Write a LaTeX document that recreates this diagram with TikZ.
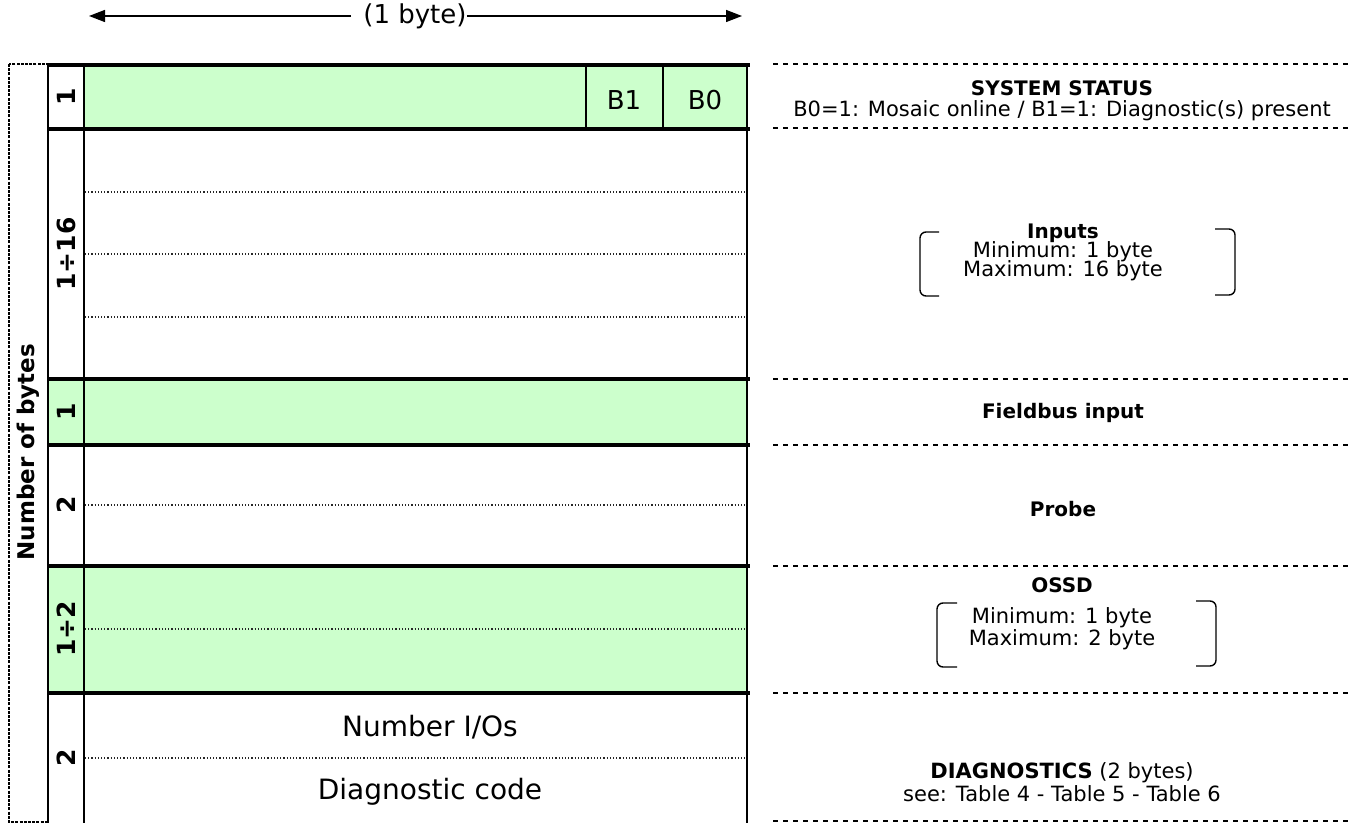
\documentclass[tikz,border=0pt]{standalone}
\usepackage{fontspec}
\setmainfont{DejaVu Sans}
\usetikzlibrary{arrows.meta,positioning}
\definecolor{fillgreen}{HTML}{CCFFCC}
\tikzset{lbl/.style={font=\fontsize{10.5}{12}\selectfont,inner sep=0pt},
  hdr/.style={font=\fontsize{10}{12}\selectfont\bfseries,inner sep=0pt},
  big/.style={font=\fontsize{14}{16}\selectfont,inner sep=0pt},
  cnt/.style={font=\fontsize{12.5}{14}\selectfont\bfseries,rotate=90,inner sep=0pt},
  sep/.style={line width=2pt},sub/.style={densely dotted,line width=0.6pt,black!85},
  rule/.style={dash pattern=on 2.5pt off 2.5pt,line width=0.55pt},
  arr/.style={-{Triangle[length=8pt,width=6pt]},line width=0.7pt},
  brk/.style={line width=0.7pt,rounded corners=3pt}}
\begin{document}
\begin{tikzpicture}[x=0.5pt,y=-0.5pt]
\useasboundingbox (0,0) rectangle (1364,823);
% byte rows
\fill[fillgreen] (84,65) rectangle (747,129);
\fill[fillgreen] (48,379) rectangle (747,445);
\fill[fillgreen] (48,566) rectangle (747,693);
\foreach \y in {192,254,317,505,629,758} \draw[sub] (85,\y) -- (747,\y);
\draw[line width=0.7pt] (48,65) -- (48,823) (84,65) -- (84,823) (747,65) -- (747,823);
\draw[line width=0.7pt] (586,65) -- (586,129) (663,65) -- (663,129);
\foreach \y in {65,129,379,445,566,693} \draw[sep] (48,\y) -- (750,\y);
\draw[line width=0.8pt,dash pattern=on 1.5pt off 0.6pt] (9,64) rectangle (48,822);
% width of a row
\node[big,font=\fontsize{13}{15}\selectfont] (width) at (415,16) {(1 byte)};
\coordinate (wl) at (89,16);\coordinate (wr) at (742,16);
\draw[arr] ([xshift=-6pt]width.west) -- (wl);\draw[arr] (width.east) -- (wr);
% byte counts
\node[font=\fontsize{11.5}{13}\selectfont\bfseries,rotate=90,inner sep=0pt] (nb) at (28,452) {Number of bytes};
\node[cnt] (c1) at (66,97) {1};\node[cnt] (c2) at (66,254) {1÷16};
\node[cnt] (c3) at (66,412) {1};\node[cnt] (c4) at (66,505) {2};
\node[cnt] (c5) at (66,629) {1÷2};\node[cnt] (c6) at (66,758) {2};
\node[big,font=\fontsize{13}{15}\selectfont] (b1) at (624,100) {B1};
\node[big,font=\fontsize{13}{15}\selectfont] (b0) at (705,100) {B0};
\node[big] (nio) at (430,727) {Number I/Os};\node[big] (dcode) at (430,792) {Diagnostic code};
% descriptions
\foreach \y in {64,128,379,445,566,693,821} \draw[rule] (773,\y) -- (1352,\y);
\node[hdr] (sys) at (1062,88) {SYSTEM STATUS};
\node[lbl] (sysb) at (1062,111) {B0=1: Mosaic online / B1=1: Diagnostic(s) present};
\node[hdr] (inp) at (1063,233) {Inputs};
\node[lbl] (inpmin) at (1063,252) {Minimum: 1 byte};
\node[lbl] (inpmax) at (1063,271) {Maximum: 16 byte};
\draw[brk] (939,232) -- (920,232) -- (920,296) -- (939,296);
\draw[brk] (1215,229) -- (1235,229) -- (1235,295) -- (1215,295);
\node[hdr] (fb) at (1063,413) {Fieldbus input};
\node[hdr] (probe) at (1063,509) {Probe};
\node[hdr] (ossd) at (1062,585) {OSSD};
\node[lbl] (ossdmin) at (1062,618) {Minimum: 1 byte};
\node[lbl] (ossdmax) at (1062,640) {Maximum: 2 byte};
\draw[brk] (957,603) -- (937,603) -- (937,667) -- (957,667);
\draw[brk] (1196,601) -- (1216,601) -- (1216,666) -- (1196,666);
\node[lbl] (diag) at (1062,773) {\textbf{DIAGNOSTICS} (2 bytes)};
\node[lbl] (diagref) at (1062,794) {see: Table 4 - Table 5 - Table 6};
\end{tikzpicture}
\end{document}
